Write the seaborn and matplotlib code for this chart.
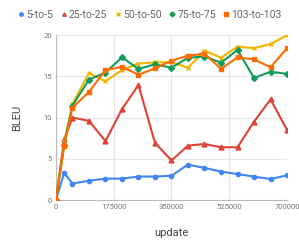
import numpy as np
import pandas as pd
import matplotlib
matplotlib.use("Agg")
import matplotlib.pyplot as plt
import seaborn as sns
from matplotlib.lines import Line2D

updates = [0, 25000, 50000, 100000, 150000, 200000, 250000, 300000, 350000,
           400000, 450000, 500000, 550000, 600000, 650000, 700000]
s_5 = [0, 3.3, 2.0, 2.35, 2.6, 2.6, 2.85, 2.85, 2.95, 4.3, 3.9, 3.45, 3.15, 2.85, 2.55, 3.0]
s_25 = [0, 7.35, 10.0, 9.6, 7.15, 11.0, 13.95, 6.95, 4.8, 6.6, 6.8, 6.4, 6.4, 9.5, 12.2, 8.5]
s_50 = [0, 7.0, 11.65, 15.4, 14.4, 15.75, 16.55, 16.7, 16.7, 16.05, 18.1, 17.25, 18.6, 18.4, 18.9, 20.0]
s_75 = [0, 6.7, 11.45, 14.6, 15.45, 17.3, 15.9, 16.45, 16.05, 17.25, 17.4, 16.65, 18.2, 14.8, 15.55, 15.3]
s_103 = [0, 6.55, 11.2, 13.1, 15.75, 16.15, 15.2, 15.95, 16.9, 17.5, 17.75, 15.9, 17.3, 17.05, 16.1, 18.4]
series_names = ["5-to-5", "25-to-25", "50-to-50", "75-to-75", "103-to-103"]
x_ticks = [0, 175000, 350000, 525000, 700000]
y_ticks = [0, 5, 10, 15, 20]

colors = ["#4285F4", "#DB4437", "#F4B400", "#0F9D58", "#FF6D00"]
markers = ["o", "^", "x", "D", "s"]
msizes = [3, 3.5, 3.5, 3, 3]

rows = []
for name, vals in zip(series_names, [s_5, s_25, s_50, s_75, s_103]):
    for u, v in zip(updates, vals):
        rows.append({"update": u, "BLEU": v, "series": name})
df = pd.DataFrame(rows)

sns.set_theme(style="white")
plt.rcParams['font.family'] = ['Roboto', 'DejaVu Sans']

fig = plt.figure(figsize=(2.99, 2.47), dpi=100)
ax = fig.add_axes([0.187, 0.19, 0.773, 0.668])

for name, c, m, ms in zip(series_names, colors, markers, msizes):
    sub = df[df["series"] == name]
    sns.lineplot(data=sub, x="update", y="BLEU", ax=ax, color=c, linewidth=1.5,
                 marker=m, markersize=ms, markeredgecolor=c, markeredgewidth=1.0,
                 legend=False, zorder=3)

ax.set_xlim(0, 700000)
ax.set_ylim(0, 20)
ax.set_xticks(x_ticks)
ax.set_xticklabels([str(t) for t in x_ticks])
ax.set_yticks(y_ticks)
ax.set_yticklabels([str(t) for t in y_ticks])
ax.tick_params(axis="both", labelsize=5.5, colors="#777777", length=0, pad=3)
ax.grid(True, color="#e6e6e6", linewidth=0.8)
for s in ["top", "right"]:
    ax.spines[s].set_visible(False)
for s in ["left", "bottom"]:
    ax.spines[s].set_color("#bbbbbb")
    ax.spines[s].set_linewidth(0.8)
ax.set_xlabel("update", fontsize=8, color="#444444", labelpad=13)
ax.set_ylabel("BLEU", fontsize=8, color="#444444", labelpad=15)

handles = [Line2D([], [], color=c, marker=m, linestyle="none", markersize=2.5,
                  markeredgecolor=c) for c, m in zip(colors, markers)]
fig.legend(handles, series_names, loc="center", bbox_to_anchor=(0.5, 0.94), ncol=5,
           frameon=False, fontsize=7.5, handletextpad=0.1, columnspacing=0.6,
           handlelength=0.8, labelcolor="#666666")

fig.savefig("out.png", dpi=100)
